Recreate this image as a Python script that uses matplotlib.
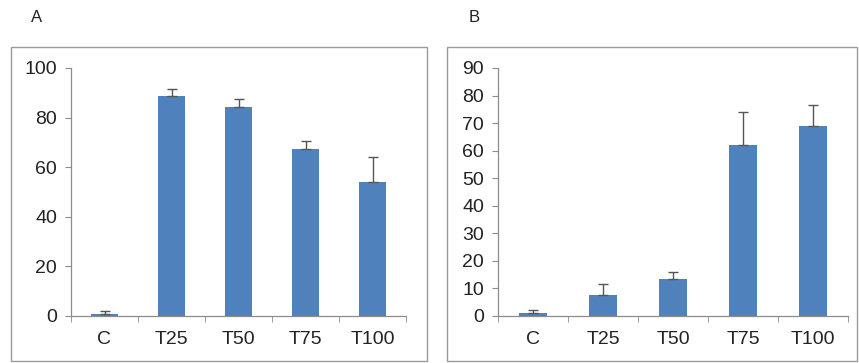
import numpy as np
import matplotlib.pyplot as plt
from matplotlib.patches import Rectangle

plt.rcParams['font.family'] = ['Liberation Sans', 'DejaVu Sans']

categories = ['C', 'T25', 'T50', 'T75', 'T100']

# panel A
values_a = [0.8, 88.6, 84.4, 67.5, 54.0]
errors_a = [1.2, 3.1, 3.0, 3.1, 10.0]

# panel B
values_b = [1.0, 7.5, 13.4, 62.2, 68.9]
errors_b = [1.1, 4.2, 2.4, 11.7, 7.8]

bar_color = '#4F81BD'
axis_color = '#8c8c8c'

W, H = 859, 363
fig = plt.figure(figsize=(W / 100, H / 100), dpi=100)


def px_axes(left, right, top, bottom):
    return fig.add_axes([left / W, 1 - bottom / H, (right - left) / W, (bottom - top) / H])


def draw_panel(ax, values, errors, ymax, ystep):
    x = np.arange(len(categories))
    ax.bar(x, values, width=0.4, color=bar_color, zorder=2)
    ax.errorbar(x, values, yerr=[np.zeros(len(errors)), errors], fmt='none',
                ecolor='#555555', elinewidth=1.0, capsize=3.5, capthick=1.0, zorder=3)
    ax.set_xlim(-0.5, len(categories) - 0.5)
    ax.set_ylim(0, ymax)
    ax.set_yticks(np.arange(0, ymax + 1, ystep))
    ax.set_xticks(x)
    ax.set_xticklabels(categories)
    ax.set_xticks(np.arange(-0.5, len(categories)), minor=True)
    ax.tick_params(axis='x', which='major', length=0, pad=11, labelsize=14, colors='#222222')
    ax.tick_params(axis='x', which='minor', length=4, direction='out', color=axis_color)
    ax.tick_params(axis='y', length=4, direction='out', color=axis_color, labelsize=14,
                   labelcolor='#222222', pad=6)
    for s in ['top', 'right']:
        ax.spines[s].set_visible(False)
    for s in ['left', 'bottom']:
        ax.spines[s].set_color(axis_color)
        ax.spines[s].set_linewidth(0.9)
    ax.set_facecolor('none')


ax_a = px_axes(71, 406, 68, 316)
draw_panel(ax_a, values_a, errors_a, 100, 20)

ax_b = px_axes(498, 848, 68, 316)
draw_panel(ax_b, values_b, errors_b, 90, 10)

# frames round each panel
fig.patches.append(Rectangle((11 / W, 1 - 361 / H), (427 - 11) / W, (361 - 47) / H,
                             transform=fig.transFigure, fill=False, edgecolor='#9a9a9a', lw=1.0))
fig.patches.append(Rectangle((447 / W, 1 - 361 / H), (857 - 447) / W, (361 - 47) / H,
                             transform=fig.transFigure, fill=False, edgecolor='#9a9a9a', lw=1.0))

fig.text(37 / W, 1 - 18 / H, 'A', fontsize=12, ha='center', va='center', color='#222222')
fig.text(474 / W, 1 - 18 / H, 'B', fontsize=12, ha='center', va='center', color='#222222')

fig.savefig('out.png', dpi=100)
